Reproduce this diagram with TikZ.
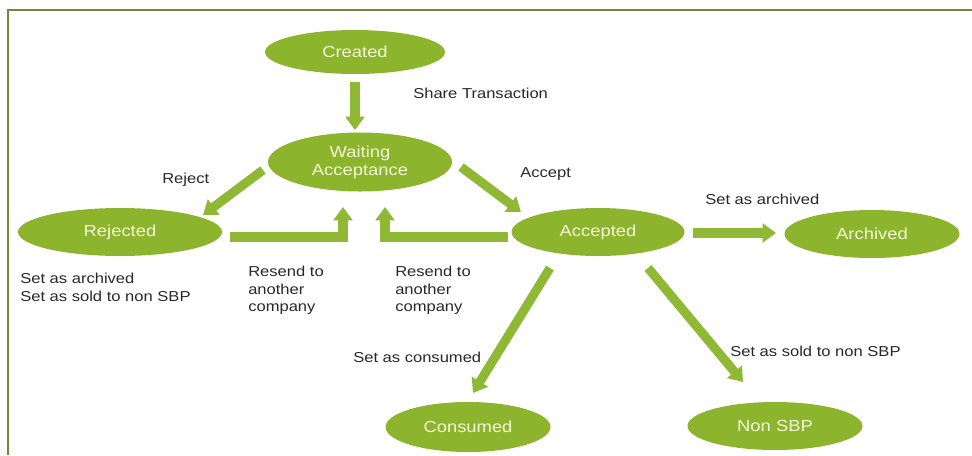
\documentclass[tikz,border=0pt]{standalone}
\usepackage{fontspec}
\setmainfont[FakeStretch=1.15]{Liberation Sans}
\usetikzlibrary{shapes.geometric,arrows.meta}
\definecolor{stategreen}{RGB}{140,180,44}
\definecolor{arrowgreen}{RGB}{143,185,52}
\definecolor{statetext}{RGB}{244,248,215}
\definecolor{framecol}{RGB}{118,134,60}
\definecolor{labeltext}{RGB}{40,40,40}
\tikzset{
  state/.style={ellipse, fill=stategreen, draw=none, inner sep=0pt,
    text=statetext, font=\fontsize{12}{13.5}\selectfont, align=center},
  flow/.style={draw=arrowgreen, line width=6.8pt,
    -{Triangle[length=10pt,width=14pt]}},
  lbl/.style={inner sep=0pt, text=labeltext, font=\fontsize{10.8}{13}\selectfont, align=left},
}
\begin{document}
\begin{tikzpicture}[x=0.75pt,y=-0.75pt]
  \useasboundingbox (0,0) rectangle (972,455);
  % frame lines
  \draw[framecol, line width=1.5pt] (8,455) -- (8,10) -- (972,10);

  % states
  \node[state, minimum width=180*0.75pt, minimum height=44*0.75pt] (created) at (355,52) {Created};
  \node[state, minimum width=184*0.75pt, minimum height=59*0.75pt] (wait) at (360,162) {Waiting\\Acceptance};
  \node[state, minimum width=204*0.75pt, minimum height=48*0.75pt] (rej) at (120,232) {Rejected};
  \node[state, minimum width=173*0.75pt, minimum height=48*0.75pt] (acc) at (598,232) {Accepted};
  \node[state, minimum width=175*0.75pt, minimum height=48*0.75pt] (arch) at (872,234) {Archived};
  \node[state, minimum width=165*0.75pt, minimum height=50*0.75pt] (cons) at (468,427) {Consumed};
  \node[state, minimum width=175*0.75pt, minimum height=48*0.75pt] (nsbp) at (775,426) {Non SBP};

  % transitions
  \draw[flow] ([shift={(0,30)}]created.center) -- ([shift={(-5,-32)}]wait.center);
  \draw[flow] ([shift={(-97,8)}]wait.center) -- ([shift={(83,-17)}]rej.center);
  \draw[flow] ([shift={(101,5)}]wait.center) -- ([shift={(-77,-20)}]acc.center);
  \draw[flow] ([shift={(110,5)}]rej.center) -| ([shift={(-17,45)}]wait.center);
  \draw[flow] ([shift={(-90,5)}]acc.center) -| ([shift={(25,45)}]wait.center);
  \draw[flow] ([shift={(95,1)}]acc.center) -- ([shift={(-96,-1)}]arch.center);
  \draw[flow] ([shift={(-48,36)}]acc.center) -- ([shift={(5,-34)}]cons.center);
  \draw[flow] ([shift={(50,36)}]acc.center) -- ([shift={(-32,-44)}]nsbp.center);

  % transition labels
  \node[lbl, anchor=west] (lshare) at (413,93) {Share Transaction};
  \node[lbl, anchor=west] (lrej) at (162,180) {Reject};
  \node[lbl, anchor=west] (lacc) at (520,174) {Accept};
  \node[lbl, anchor=west] (larch) at (705,199) {Set as archived};
  \node[lbl, anchor=north west] (lrejout) at (20,273) {Set as archived\\Set as sold to non SBP};
  \node[lbl, anchor=north west] (lres1) at (248,266) {Resend to\\another\\company};
  \node[lbl, anchor=north west] (lres2) at (395,266) {Resend to\\another\\company};
  \node[lbl, anchor=west] (lcons) at (353,357) {Set as consumed};
  \node[lbl, anchor=west] (lsold) at (730,351) {Set as sold to non SBP};
\end{tikzpicture}
\end{document}
